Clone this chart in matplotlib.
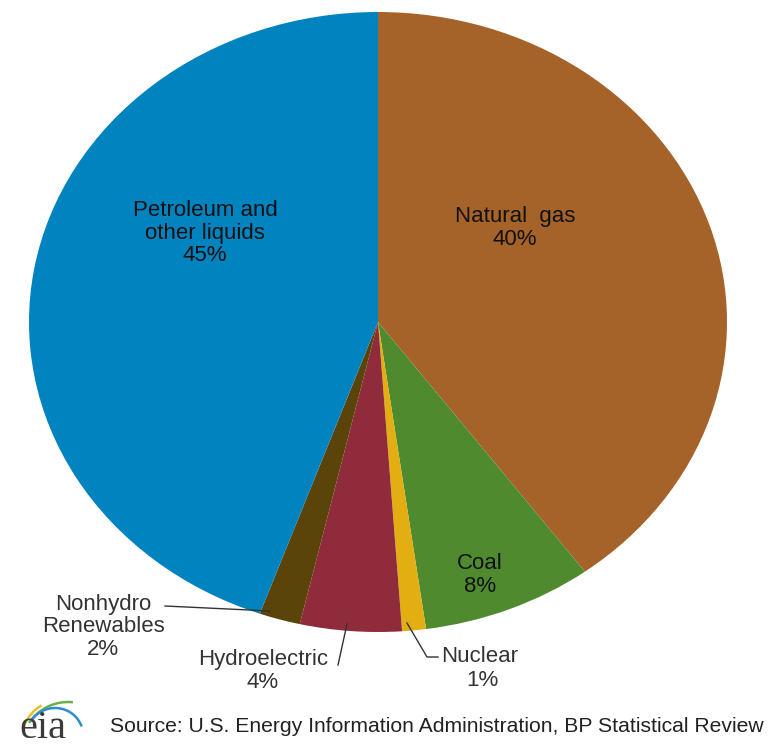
import matplotlib
matplotlib.use("Agg")
import matplotlib.pyplot as plt
from matplotlib.patches import Arc

categories = ["Natural gas", "Coal", "Nuclear", "Hydroelectric", "Nonhydro\nRenewables", "Petroleum and\nother liquids"]
values = [39.9, 7.9, 1.1, 4.7, 1.9, 44.5]
pct_labels = ["40%", "8%", "1%", "4%", "2%", "45%"]
colors = ["#A5632A", "#4F8A2F", "#E3AE12", "#8F2B3A", "#5B4409", "#0083BE"]

W, H = 776, 747
fig = plt.figure(figsize=(W / 100, H / 100), dpi=100)
ax = fig.add_axes([0, 0, 1, 1])
plt.rcParams['font.family'] = ['Liberation Sans', 'DejaVu Sans']

CX, CY, RX, RY = 378, 322, 349, 310

ax.pie(values, colors=colors, startangle=90, counterclock=False,
       wedgeprops=dict(linewidth=0))
ax.set_aspect('auto')
ax.set_xlim((0 - CX) / RX, (W - CX) / RX)
ax.set_ylim((CY - H) / RY, (CY - 0) / RY)
ax.axis('off')


def P(px, py):
    return ((px - CX) / RX, (CY - py) / RY)


fs = 16
inside = "#111111"
outside = "#333333"


def lab(px, py, s, color, ha="center"):
    x, y = P(px, py)
    ax.text(x, y, s, ha=ha, va="center", fontsize=fs, color=color, linespacing=1.1)


lab(205, 233, categories[5] + "\n" + pct_labels[5], inside)
lab(515, 228, "Natural  gas\n" + pct_labels[0], inside)
lab(480, 575, categories[1] + "\n" + pct_labels[1], inside)
lab(103, 627, categories[4] + "\n" + pct_labels[4], outside)
lab(263, 671, categories[3] + "\n" + pct_labels[3], outside)
x, y = P(441, 657)
ax.text(x, y, categories[2], ha="left", va="center", fontsize=fs, color=outside)
x, y = P(482, 681)
ax.text(x, y, pct_labels[2], ha="center", va="center", fontsize=fs, color=outside)

# leader lines
def line(pts):
    xs, ys = zip(*[P(a, b) for a, b in pts])
    ax.plot(xs, ys, color="#333333", lw=1.0)

line([(165, 606), (270, 611)])
line([(338, 665), (347, 624)])
line([(407, 623), (427, 657), (438, 657)])

# source
x, y = P(110, 727)
ax.text(x, y, "Source: U.S. Energy Information Administration, BP Statistical Review",
        ha="left", va="center", fontsize=15.2, color="#222222")

# eia logo
x, y = P(43, 738)
ax.text(x, y, "eia", ha="center", va="baseline", fontsize=29, color="#3a3a3a",
        family=["Liberation Serif", "DejaVu Serif"])
for (cx, cy, w, h, t1, t2, col, lw) in [
    (55, 750, 72, 96, 105, 140, "#E5C02A", 1.8),
    (68, 752, 96, 100, 85, 140, "#6AB04C", 1.8),
    (55, 735, 56, 54, 20, 148, "#2A8FD0", 1.8),
]:
    ax_x, ax_y = P(cx, cy)
    ax.add_patch(Arc((ax_x, ax_y), w / RX, h / RY, theta1=t1, theta2=t2,
                     color=col, lw=lw))

fig.savefig("out.png", dpi=100)
